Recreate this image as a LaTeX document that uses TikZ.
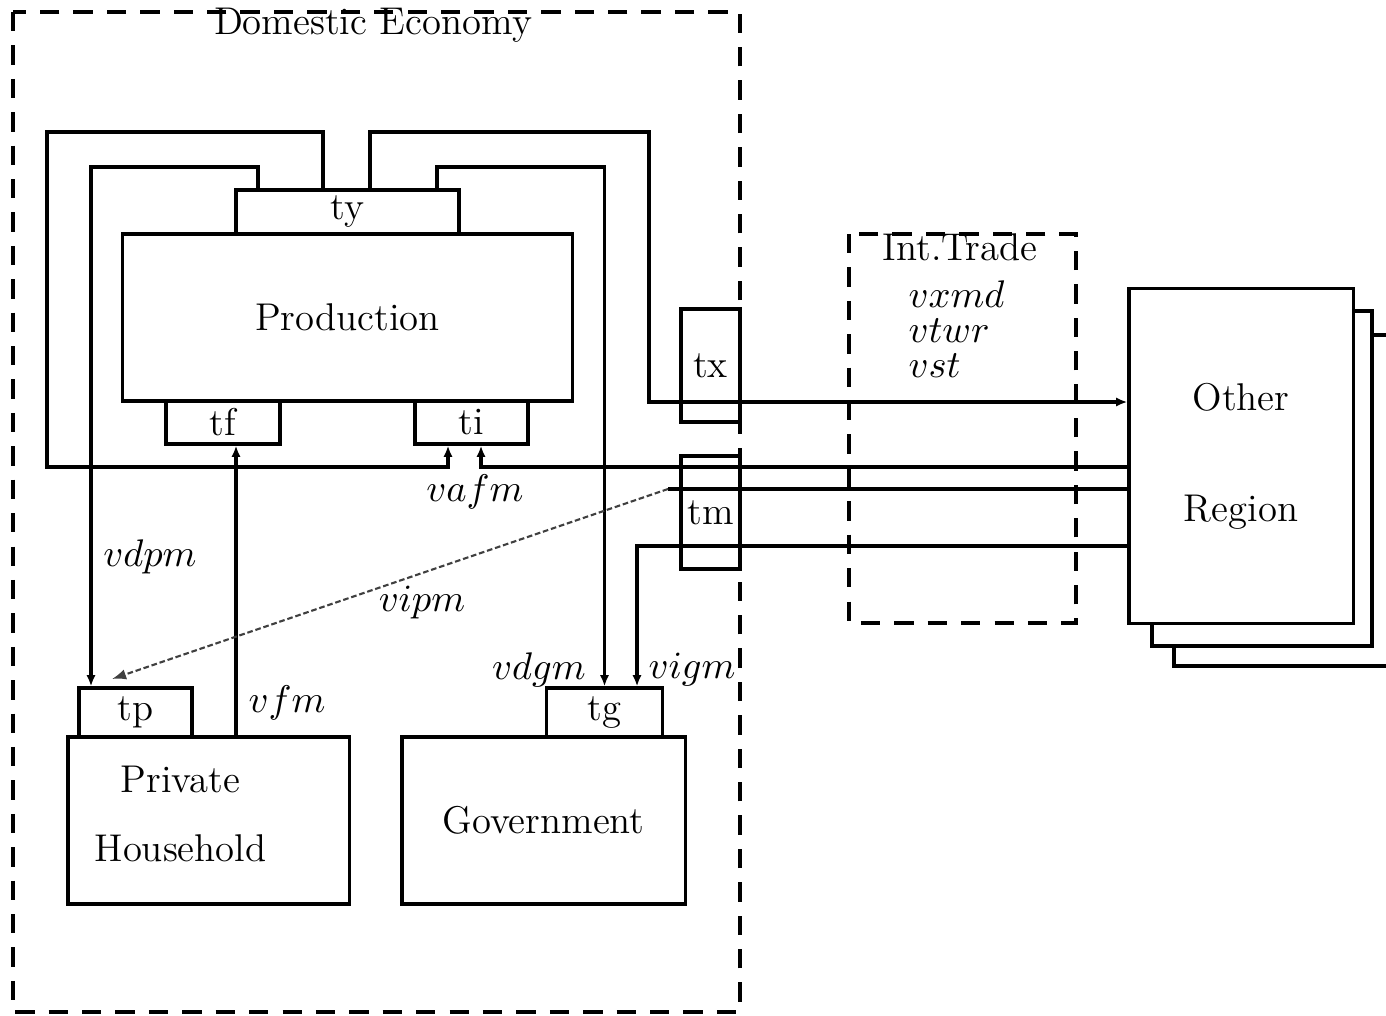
\documentclass[tikz,border=0pt]{standalone}
\usetikzlibrary{arrows.meta}
\begin{document}
\begin{tikzpicture}[x=0.01cm, y=-0.01cm, line width=0.9pt,
    font=\fontsize{11}{13}\selectfont,
    box/.style={draw, fill=white, inner sep=0pt},
    frame/.style={dash pattern=on 5.5pt off 4pt},
    tradeval/.style={anchor=base west, inner sep=0pt, font=\fontsize{10.5}{12}\selectfont},
    flow/.style={-{Latex[length=3.2pt,width=2.6pt]}},
    imp/.style={-{Latex[length=4pt,width=3pt]}, line width=0.6pt, black!75, dash pattern=on 1.6pt off 0.8pt}]
    \useasboundingbox (0,0) rectangle (1386,1015);
    \clip (0,0) rectangle (1386,1015);
    % Frames
    \draw[frame] (13,12) rectangle (740,1012);
    \node (dom) at (373,25) {Domestic Economy};
    \draw[frame] (849,234) rectangle (1076,623);
    \node (trade) at (960,247) {Int.Trade};
    \node[tradeval] (vxmd) at (907,307) {$vxmd$};
    \node[tradeval] (vtwr) at (907,342) {$vtwr$};
    \node[tradeval] (vst) at (907,377) {$vst$};
    % Other regions (stacked)
    \draw (1174,335) rectangle (1440,666);
    \draw[fill=white] (1152,311) rectangle (1372,646);
    \node[box, minimum width=2.24cm, minimum height=3.35cm, align=center] (region) at (1241,456) {Other\\[18.5pt]Region};
    % Agents
    \node[box, minimum width=4.49cm, minimum height=1.67cm] (prod) at (347.5,317.5) {Production};
    \node[box, minimum width=2.23cm, minimum height=0.44cm] (ty) at (347.5,212) {ty};
    \node[box, minimum width=1.14cm, minimum height=0.43cm] (tf) at (223,422.5) {tf};
    \node[box, minimum width=1.13cm, minimum height=0.43cm] (ti) at (471.5,422.5) {ti};
    \node[box, minimum width=2.81cm, minimum height=1.67cm] (hh) at (208.5,820.5) {};
    \node[align=center] (hhtext) at (180.5,814) {Private\\[6.8pt]Household};
    \node[box, minimum width=1.13cm, minimum height=0.49cm] (tp) at (135.5,712.5) {tp};
    \node[box, minimum width=2.83cm, minimum height=1.67cm] (gov) at (543.5,820.5) {Government};
    \node[box, minimum width=1.16cm, minimum height=0.49cm] (tg) at (604.5,712.5) {tg};
    % Border taxes
    \node[box, minimum width=0.59cm, minimum height=1.13cm] (tx) at (710.5,365.5) {tx};
    \node[box, minimum width=0.59cm, minimum height=1.13cm] (tm) at (710.5,512.5) {tm};
    % Flows
    \draw[flow] (ty.north -| 323,0) -- (323,132) -| (47,467) -| (ti.south -| 448,0);
    \draw[flow] (ty.north -| 370,0) -- (370,132) -| (649,402) -- (region.west |- 0,402);
    \draw[flow] (ty.north -| 258,0) -- (258,167) -| (tp.north -| 91,0);
    \draw[flow] (ty.north -| 437,0) -- (437,167) -| (tg.north);
    \draw[flow] (hh.north -| 236,0) -- (tf.south -| 236,0);
    \draw[flow] (region.west |- 0,467) -| (ti.south -| 481,0);
    \coordinate (imtm) at (668,489);
    \coordinate (imtp) at (112,679);
    \draw (region.west |- 0,489) -- (imtm);
    \draw[imp] (imtm) -- (imtp);
    \draw[flow] (region.west |- 0,546) -| (tg.north -| 637,0);
    % Labels
    \node at (150,557) {$vdpm$};
    \node at (287,703) {$vfm$};
    \node at (475,492) {$vafm$};
    \node at (422,603) {$vipm$};
    \node at (539,670) {$vdgm$};
    \node at (692,670) {$vigm$};
\end{tikzpicture}
\end{document}
